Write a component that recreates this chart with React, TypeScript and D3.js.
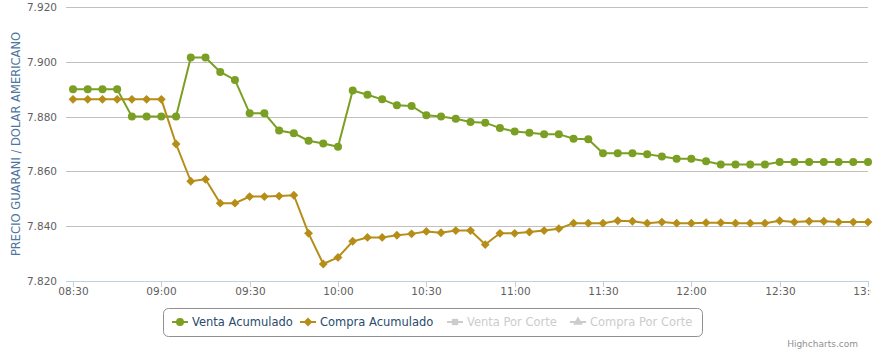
import React from "react";
import * as d3 from "d3";

const times: string[] = [
  "08:30","08:35","08:40","08:45","08:50","08:55","09:00","09:05","09:10","09:15",
  "09:20","09:25","09:30","09:35","09:40","09:45","09:50","09:55","10:00","10:05",
  "10:10","10:15","10:20","10:25","10:30","10:35","10:40","10:45","10:50","10:55",
  "11:00","11:05","11:10","11:15","11:20","11:25","11:30","11:35","11:40","11:45",
  "11:50","11:55","12:00","12:05","12:10","12:15","12:20","12:25","12:30","12:35",
  "12:40","12:45","12:50","12:55","13:00",
];

const ventaAcumulado: number[] = [
  7.890, 7.890, 7.890, 7.890, 7.880, 7.880, 7.880, 7.880, 7.9016, 7.9016,
  7.8963, 7.8934, 7.8812, 7.8812, 7.8749, 7.8739, 7.8712, 7.8702, 7.8690, 7.8895,
  7.8880, 7.8863, 7.8841, 7.8839, 7.8805, 7.8800, 7.8792, 7.8780, 7.8778, 7.8758,
  7.8746, 7.8741, 7.8736, 7.8736, 7.8719, 7.8717, 7.8666, 7.8666, 7.8666, 7.8663,
  7.8654, 7.8646, 7.8646, 7.8637, 7.8625, 7.8625, 7.8625, 7.8625, 7.8634, 7.8634,
  7.8634, 7.8634, 7.8634, 7.8634, 7.8634,
];

const compraAcumulado: number[] = [
  7.8863, 7.8863, 7.8863, 7.8863, 7.8863, 7.8863, 7.8863, 7.8700, 7.8564, 7.8571,
  7.8484, 7.8484, 7.8508, 7.8508, 7.8510, 7.8513, 7.8374, 7.8262, 7.8286, 7.8345,
  7.8359, 7.8359, 7.8367, 7.8372, 7.8381, 7.8376, 7.8384, 7.8384, 7.8333, 7.8374,
  7.8374, 7.8379, 7.8384, 7.8391, 7.8411, 7.8411, 7.8411, 7.8420, 7.8418, 7.8411,
  7.8415, 7.8411, 7.8411, 7.8413, 7.8413, 7.8411, 7.8411, 7.8411, 7.8420, 7.8415,
  7.8418, 7.8418, 7.8415, 7.8415, 7.8415,
];

const yTicks: number[] = [7.82, 7.84, 7.86, 7.88, 7.9, 7.92];
const xTickLabels: string[] = ["08:30","09:00","09:30","10:00","10:30","11:00","11:30","12:00","12:30","13:00"];

const legendItems = [
  { name: "Venta Acumulado", color: "#7a9f23", symbol: "circle", visible: true },
  { name: "Compra Acumulado", color: "#b58d17", symbol: "diamond", visible: true },
  { name: "Venta Por Corte", color: "#cccccc", symbol: "square", visible: false },
  { name: "Compra Por Corte", color: "#cccccc", symbol: "triangle", visible: false },
];

const toMin = (t: string) => {
  const [h, m] = t.split(":").map(Number);
  return h * 60 + m;
};

const W = 878;
const H = 358;
const plotLeft = 66;
const plotRight = 868;
const plotTop = 7;
const plotBottom = 281;
const FONT = '"DejaVu Sans", "Lucida Grande", Verdana, Arial, sans-serif';

export default function App() {
  const x = d3.scaleLinear().domain([toMin("08:30"), toMin("13:00")]).range([73, 868]);
  const y = d3.scaleLinear().domain([7.82, 7.92]).range([plotBottom, plotTop]);

  const fmt = (v: number) => d3.format(".3f")(v);

  const line = d3
    .line<number>()
    .x((_, i) => x(toMin(times[i])))
    .y((d) => y(d));

  const diamond = d3.symbol().type(d3.symbolDiamond2).size(50)();
  const sqSym = d3.symbol().type(d3.symbolSquare).size(40)();
  const triSym = d3.symbol().type(d3.symbolTriangle).size(40)();
  const circSym = d3.symbol().type(d3.symbolCircle).size(50)();
  const symPath: Record<string, string | null> = {
    circle: circSym,
    diamond: diamond,
    square: sqSym,
    triangle: triSym,
  };

  const legendX = [172, 300, 447, 570];

  return (
    <svg width={W} height={H} style={{ display: "block", position: "absolute", left: 0, top: 0 }} fontFamily={FONT}>
      <defs>
        <clipPath id="chartClip">
          <rect x={0} y={0} width={871} height={H} />
        </clipPath>
      </defs>
      <rect x={0} y={0} width={W} height={H} fill="#ffffff" />
      {/* grid */}
      {yTicks.map((t) => (
        <line key={t} x1={plotLeft} x2={plotRight} y1={Math.round(y(t)) + 0.5} y2={Math.round(y(t)) + 0.5} stroke="#c0c0c0" strokeWidth={1} />
      ))}
      {/* x axis line */}
      <line x1={plotLeft} x2={plotRight} y1={plotBottom + 0.5} y2={plotBottom + 0.5} stroke="#c0d0e0" strokeWidth={1} />
      <g clipPath="url(#chartClip)">
        {xTickLabels.map((t) => {
          const xx = Math.round(x(toMin(t))) + 0.5;
          return (
            <g key={t}>
              <line x1={xx} x2={xx} y1={plotBottom} y2={plotBottom + 6} stroke="#c0d0e0" strokeWidth={1} />
              <text x={xx} y={295} textAnchor="middle" fontSize={10.5} fill="#606060">
                {t}
              </text>
            </g>
          );
        })}
      </g>
      {/* y labels */}
      {yTicks.map((t) => (
        <text key={t} x={57} y={y(t) + 4} textAnchor="end" fontSize={10.5} fill="#606060">
          {fmt(t)}
        </text>
      ))}
      {/* y title */}
      <text
        transform={`translate(19.5,${(plotTop + plotBottom) / 2}) rotate(-90)`}
        textAnchor="middle"
        fontSize={11.5}
        fill="#4d759e"
      >
        PRECIO GUARANI / DOLAR AMERICANO
      </text>
      {/* series */}
      <path d={line(ventaAcumulado) || ""} fill="none" stroke="#7a9f23" strokeWidth={2} />
      <path d={line(compraAcumulado) || ""} fill="none" stroke="#b58d17" strokeWidth={2} />
      {ventaAcumulado.map((v, i) => (
        <circle key={"v" + i} cx={x(toMin(times[i]))} cy={y(v)} r={4} fill="#7a9f23" />
      ))}
      {compraAcumulado.map((v, i) => (
        <path key={"c" + i} d={diamond || ""} transform={`translate(${x(toMin(times[i]))},${y(v)})`} fill="#b58d17" />
      ))}
      {/* legend */}
      <rect x={163.5} y={308.5} width={539} height={28} rx={5} ry={5} fill="none" stroke="#909090" strokeWidth={1} />
      {legendItems.map((it, i) => {
        const lx = legendX[i];
        const cy = 322;
        return (
          <g key={it.name}>
            <line x1={lx} x2={lx + 16} y1={cy} y2={cy} stroke={it.color} strokeWidth={2} />
            <path d={symPath[it.symbol] || ""} transform={`translate(${lx + 8},${cy})`} fill={it.color} />
            <text x={lx + 20} y={cy + 4} fontSize={11.5} fill={it.visible ? "#274b6d" : "#cccccc"}>
              {it.name}
            </text>
          </g>
        );
      })}
      <text x={858} y={347} textAnchor="end" fontSize={9} fill="#909090">
        Highcharts.com
      </text>
    </svg>
  );
}
